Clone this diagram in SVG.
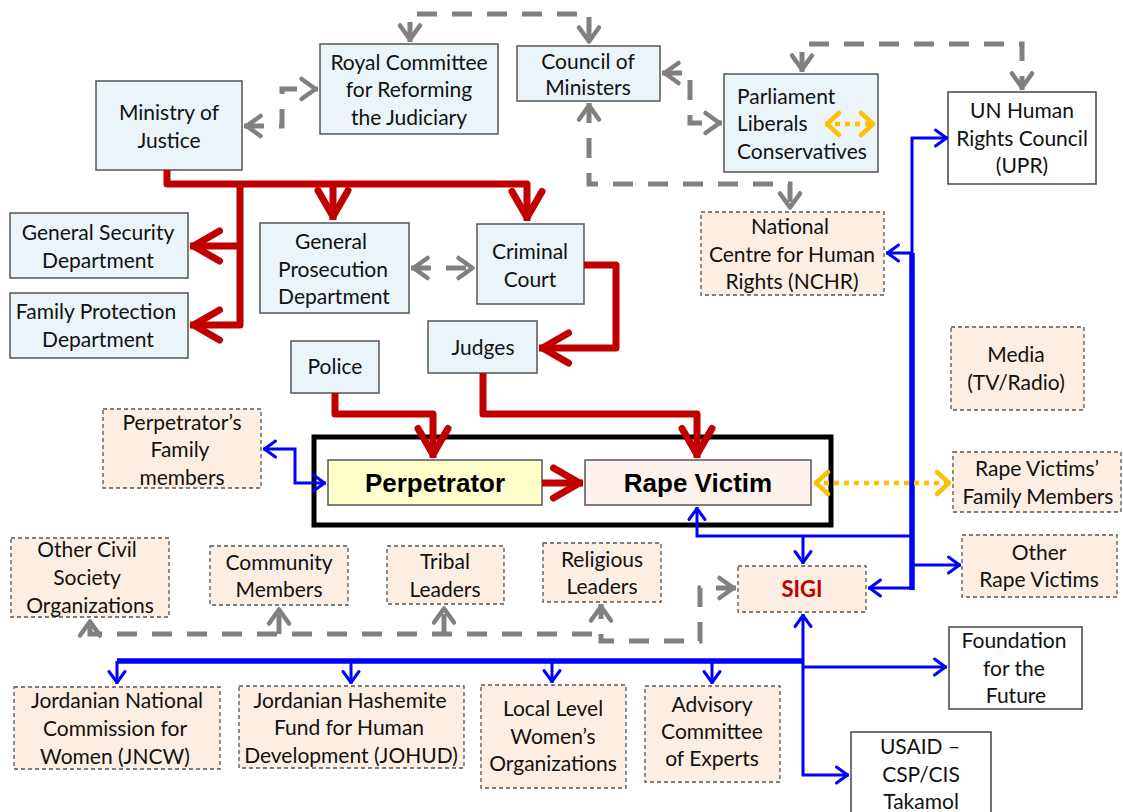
<svg xmlns="http://www.w3.org/2000/svg" width="1123" height="812" viewBox="0 0 1123 812">
<style>
.nb{fill:#EBF4F8;stroke:#555;stroke-width:1.5}
.np{fill:#FCEEE2;stroke:#555;stroke-width:1.3;stroke-dasharray:4,3}
.nw{fill:#fff;stroke:#444;stroke-width:1.5}
.t{font-family:Lato,"Open Sans","Liberation Sans",sans-serif;font-size:21px;fill:#111;text-anchor:middle}
.tl{text-anchor:start}
.big{font-family:"Liberation Sans",Arial,sans-serif;font-size:26px;font-weight:bold;fill:#000;text-anchor:middle}
.red{fill:none;stroke:#C00000;stroke-width:7;stroke-linejoin:round}
.gray{fill:none;stroke:#808080;stroke-width:5;stroke-dasharray:20,15}
.blue{fill:none;stroke:#0000FF;stroke-width:3}
.blueT{fill:none;stroke:#0000FF;stroke-width:5.5}
.yel{fill:none;stroke:#FFC000;stroke-width:4.5;stroke-dasharray:5,5}
</style>
<defs>
<marker id="mr" markerUnits="userSpaceOnUse" viewBox="-34 -22 40 44" refX="3.5" refY="0" markerWidth="40" markerHeight="44" orient="auto-start-reverse" overflow="visible">
<path d="M-26,-15 L0,0 L-26,15" fill="none" stroke="#C00000" stroke-width="7" stroke-linejoin="round" stroke-linecap="round"/>
</marker>
<marker id="mg" markerUnits="userSpaceOnUse" viewBox="-20 -14 24 28" refX="2.5" refY="0" markerWidth="24" markerHeight="28" orient="auto-start-reverse" overflow="visible">
<path d="M-14,-10 L0,0 L-14,10" fill="none" stroke="#808080" stroke-width="4.5" stroke-linejoin="round" stroke-linecap="round"/>
</marker>
<marker id="mb" markerUnits="userSpaceOnUse" viewBox="-16 -12 20 24" refX="1.5" refY="0" markerWidth="20" markerHeight="24" orient="auto-start-reverse" overflow="visible">
<path d="M-11,-8 L0,0 L-11,8" fill="none" stroke="#0000FF" stroke-width="3" stroke-linejoin="round" stroke-linecap="round"/>
</marker>
<marker id="my" markerUnits="userSpaceOnUse" viewBox="-18 -14 22 28" refX="2" refY="0" markerWidth="22" markerHeight="28" orient="auto-start-reverse" overflow="visible">
<path d="M-12,-11 L0,0 L-12,11" fill="none" stroke="#FFC000" stroke-width="4.5" stroke-linejoin="round" stroke-linecap="round"/>
</marker>
</defs>
<rect width="1123" height="812" fill="#fff"/>

<g id="ministry-of-justice"><rect class="nb" x="96" y="81" width="146" height="89"/><text class="t" x="169" y="120">Ministry of</text><text class="t" x="169" y="148">Justice</text></g>
<g id="royal-committee"><rect class="nb" x="320" y="44" width="178" height="90"/><text class="t" x="409" y="70">Royal Committee</text><text class="t" x="409" y="97">for Reforming</text><text class="t" x="409" y="125">the Judiciary</text></g>
<g id="council-of-ministers"><rect class="nb" x="517" y="46" width="143" height="55"/><text class="t" x="588" y="69">Council of</text><text class="t" x="588" y="95">Ministers</text></g>
<g id="parliament"><rect class="nb" x="724" y="74" width="154" height="98"/><text class="t tl" x="737" y="104">Parliament</text><text class="t tl" x="737" y="131">Liberals</text><text class="t tl" x="737" y="159">Conservatives</text></g>
<g id="un-hrc"><rect class="nw" x="948" y="92" width="148" height="92"/><text class="t" x="1022" y="118">UN Human</text><text class="t" x="1022" y="146">Rights Council</text><text class="t" x="1022" y="173">(UPR)</text></g>
<g id="nchr"><rect class="np" x="701" y="212" width="183" height="83"/><text class="t" x="790" y="234">National</text><text class="t" x="792" y="262">Centre for Human</text><text class="t" x="792" y="289">Rights (NCHR)</text></g>
<g id="general-security"><rect class="nb" x="10" y="213" width="178" height="65"/><text class="t" x="98" y="240">General Security</text><text class="t" x="98" y="268">Department</text></g>
<g id="family-protection"><rect class="nb" x="10" y="293" width="178" height="65"/><text class="t" x="96" y="319">Family Protection</text><text class="t" x="98" y="347">Department</text></g>
<g id="general-prosecution"><rect class="nb" x="260" y="223" width="149" height="90"/><text class="t" x="331" y="249">General</text><text class="t" x="333" y="277">Prosecution</text><text class="t" x="334" y="304">Department</text></g>
<g id="criminal-court"><rect class="nb" x="477" y="224" width="107" height="80"/><text class="t" x="530" y="259">Criminal</text><text class="t" x="530" y="287">Court</text></g>
<g id="judges"><rect class="nb" x="428" y="321" width="109" height="52"/><text class="t" x="483" y="355">Judges</text></g>
<g id="police"><rect class="nb" x="291" y="341" width="88" height="52"/><text class="t" x="335" y="374">Police</text></g>
<g id="media"><rect class="np" x="951" y="327" width="133" height="83"/><text class="t" x="1016" y="362">Media</text><text class="t" x="1016" y="390">(TV/Radio)</text></g>
<g id="perpetrators-family"><rect class="np" x="103" y="409" width="158" height="79"/><text class="t" x="182" y="430">Perpetrator’s</text><text class="t" x="180" y="457">Family</text><text class="t" x="182" y="485">members</text></g>
<g id="core"><rect x="314" y="437" width="517" height="88" fill="none" stroke="#000" stroke-width="5"/></g>
<g id="perpetrator"><rect x="328" y="460" width="214" height="45" fill="#FFFFCC" stroke="#555" stroke-width="1.5"/><text class="big" x="435" y="492">Perpetrator</text></g>
<g id="rape-victim"><rect x="585" y="460" width="226" height="45" fill="#FDF3EC" stroke="#555" stroke-width="1.5"/><text class="big" x="698" y="492">Rape Victim</text></g>
<g id="rape-victims-family"><rect class="np" x="953" y="452" width="168" height="60"/><text class="t" x="1037" y="476">Rape Victims’</text><text class="t" x="1038" y="504">Family Members</text></g>
<g id="other-rape-victims"><rect class="np" x="962" y="535" width="155" height="62"/><text class="t" x="1039" y="560">Other</text><text class="t" x="1039" y="587">Rape Victims</text></g>
<g id="other-civil-society"><rect class="np" x="11" y="538" width="158" height="79"/><text class="t" x="87" y="557">Other Civil</text><text class="t" x="87" y="585">Society</text><text class="t" x="90" y="613">Organizations</text></g>
<g id="community-members"><rect class="np" x="210" y="546" width="138" height="59"/><text class="t" x="279" y="570">Community</text><text class="t" x="279" y="597">Members</text></g>
<g id="tribal-leaders"><rect class="np" x="387" y="546" width="117" height="58"/><text class="t" x="445" y="569">Tribal</text><text class="t" x="445" y="597">Leaders</text></g>
<g id="religious-leaders"><rect class="np" x="543" y="543" width="118" height="59"/><text class="t" x="602" y="567">Religious</text><text class="t" x="602" y="594">Leaders</text></g>
<g id="sigi"><rect class="np" x="738" y="566" width="128" height="46"/><text x="802" y="597" font-family="Lato,'Open Sans',sans-serif" font-size="22" font-weight="bold" fill="#C00000" text-anchor="middle">SIGI</text></g>
<g id="foundation-future"><rect class="nw" x="949" y="627" width="133" height="82"/><text class="t" x="1014" y="648">Foundation</text><text class="t" x="1014" y="676">for the</text><text class="t" x="1016" y="703">Future</text></g>
<g id="usaid"><rect class="nw" x="851" y="732" width="140" height="90"/><text class="t" x="920" y="754">USAID –</text><text class="t" x="921" y="782">CSP/CIS</text><text class="t" x="921" y="809">Takamol</text></g>
<g id="jncw"><rect class="np" x="14" y="687" width="206" height="82"/><text class="t" x="117" y="708">Jordanian National</text><text class="t" x="115" y="736">Commission for</text><text class="t" x="115" y="764">Women (JNCW)</text></g>
<g id="johud"><rect class="np" x="239" y="686" width="225" height="82"/><text class="t" x="350" y="708">Jordanian Hashemite</text><text class="t" x="349" y="735">Fund for Human</text><text class="t" x="351" y="763">Development (JOHUD)</text></g>
<g id="local-womens-orgs"><rect class="np" x="481" y="685" width="145" height="103"/><text class="t" x="553" y="716">Local Level</text><text class="t" x="553" y="744">Women’s</text><text class="t" x="553" y="771">Organizations</text></g>
<g id="advisory-committee"><rect class="np" x="645" y="686" width="135" height="96"/><text class="t" x="712" y="712">Advisory</text><text class="t" x="712" y="739">Committee</text><text class="t" x="712" y="766">of Experts</text></g>

<g id="connectors">
<!-- red -->
<path class="red" d="M167,170 V184 H527 V221" marker-end="url(#mr)"/>
<path class="red" d="M333,184 V220" marker-end="url(#mr)"/>
<path class="red" d="M240,184 V325 H190" marker-end="url(#mr)"/>
<path class="red" d="M240,246 H190" marker-end="url(#mr)"/>
<path class="red" d="M584,265 H616 V348 H539" marker-end="url(#mr)"/>
<path class="red" d="M335,393 V414 H433 V458" marker-end="url(#mr)"/>
<path class="red" d="M483,373 V414 H697 V458" marker-end="url(#mr)"/>
<path class="red" d="M542,483 H583" marker-end="url(#mr)"/>
<!-- gray dashed -->
<path class="gray" d="M244,126 H282 V89 H318" marker-start="url(#mg)" marker-end="url(#mg)"/>
<path class="gray" d="M410,42 V14 H589 V44" marker-start="url(#mg)" marker-end="url(#mg)"/>
<path class="gray" d="M662,73 H690 V123 H722" marker-start="url(#mg)" marker-end="url(#mg)"/>
<path class="gray" d="M589,103 V184 H790 V210" marker-start="url(#mg)" marker-end="url(#mg)"/>
<path class="gray" d="M802,72 V44 H1022 V90" marker-start="url(#mg)" marker-end="url(#mg)"/>
<path class="gray" d="M411,268 H475" marker-start="url(#mg)" marker-end="url(#mg)"/>
<path class="gray" d="M736,588 H700 V641 H601 V604" marker-start="url(#mg)" marker-end="url(#mg)"/>
<path class="gray" d="M592,634 H90 V619" marker-end="url(#mg)"/>
<path class="gray" d="M279,634 V607" marker-end="url(#mg)"/>
<path class="gray" d="M444,634 V606" marker-end="url(#mg)"/>
<!-- blue -->
<path class="blue" d="M263,449 H295 V483 H326" marker-start="url(#mb)" marker-end="url(#mb)"/>
<path class="blue" d="M697,507 V536 H912" marker-start="url(#mb)"/>
<path class="blue" d="M803,536 V564" marker-end="url(#mb)"/>
<path class="blue" d="M948,138 H912 V588 H868" marker-start="url(#mb)" marker-end="url(#mb)"/>
<path class="blueT" d="M912,253 V590"/>
<path class="blue" d="M912,253 H886" marker-end="url(#mb)"/>
<path class="blue" d="M912,565 H961" marker-end="url(#mb)"/>
<path class="blue" d="M803,614 V775 H849" marker-start="url(#mb)" marker-end="url(#mb)"/>
<path class="blueT" d="M117,661 H803"/>
<path class="blue" d="M117,661 V684" marker-end="url(#mb)"/>
<path class="blue" d="M351,661 V684" marker-end="url(#mb)"/>
<path class="blue" d="M552,661 V683" marker-end="url(#mb)"/>
<path class="blue" d="M712,661 V684" marker-end="url(#mb)"/>
<path class="blue" d="M803,667 H947" marker-end="url(#mb)"/>
<!-- yellow dotted -->
<path class="yel" d="M825,124 H875" marker-start="url(#my)" marker-end="url(#my)"/>
<path class="yel" d="M814,483 H951" marker-start="url(#my)" marker-end="url(#my)"/>
</g>
</svg>
